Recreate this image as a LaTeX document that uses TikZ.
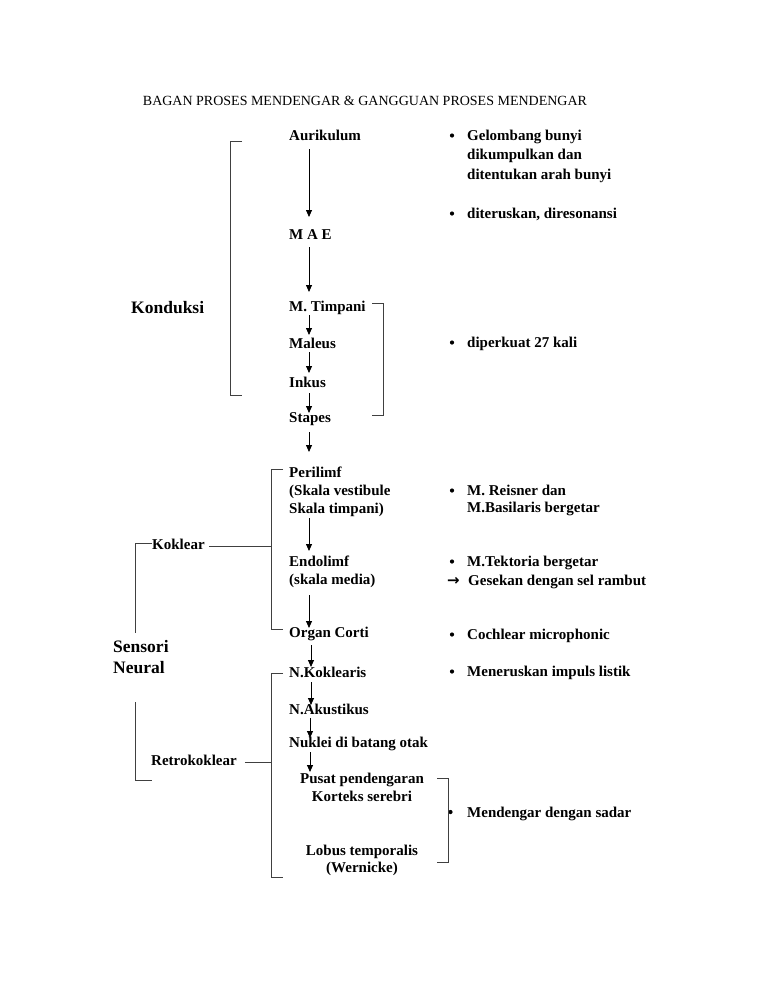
\documentclass[tikz,border=0pt]{standalone}
\usepackage{fontspec}
\setmainfont{Liberation Serif}
\newfontfamily\symfont{DejaVu Sans}
\usetikzlibrary{arrows.meta}
\begin{document}
\begin{tikzpicture}[x=1pt,y=-1pt,
  every node/.style={inner sep=0pt, font=\bfseries\fontsize{15}{18}\selectfont},
  lbl/.style={anchor=base west},
  big/.style={anchor=base west, font=\bfseries\fontsize{17.5}{21}\selectfont},
  arr/.style={-{Triangle[length=7pt,width=6pt]}, line width=0.8pt},
  brk/.style={line width=0.9pt, draw=black!75},
  dot/.style={fill=black}]
\useasboundingbox (0,0) rectangle (768,994);
\newcommand\bul[1]{\fill[dot] ([shift={(-15,-4.5)}]#1.base west) circle (2.1);}

% title
\node[anchor=base, font=\fontsize{14}{16}\selectfont] (title) at (365,105)
  {BAGAN PROSES MENDENGAR \& GANGGUAN PROSES MENDENGAR};

% main chain
\node[lbl] (aur) at (289,140) {Aurikulum};
\node[lbl] (mae) at (289,239) {M A E};
\node[lbl] (mti) at (289,311) {M. Timpani};
\node[lbl] (mal) at (289,348) {Maleus};
\node[lbl] (ink) at (289,387) {Inkus};
\node[lbl] (sta) at (289,422) {Stapes};
\node[lbl] (per1) at (289,477) {Perilimf};
\node[lbl] (per2) at (289,495) {(Skala vestibule};
\node[lbl] (per3) at (289,513) {Skala timpani)};
\node[lbl] (endo1) at (289,566) {Endolimf};
\node[lbl] (endo2) at (289,584) {(skala media)};
\node[lbl] (org) at (289,637) {Organ Corti};
\node[lbl] (nk) at (289,677) {N.Koklearis};
\node[lbl] (nak) at (289,714) {N.Akustikus};
\node[lbl] (nuk) at (289,747) {Nuklei di batang otak};
\node[anchor=base] (pus1) at (362,783) {Pusat pendengaran};
\node[anchor=base] (pus2) at (362,801) {Korteks serebri};
\node[anchor=base] (lob1) at (362,855) {Lobus temporalis};
\node[anchor=base] (lob2) at (362,872) {(Wernicke)};

% left labels
\node[big] (kond) at (131,313) {Konduksi};
\node[big] (sens) at (113,652) {Sensori};
\node[big] (neur) at (113,673) {Neural};
\node[lbl] (kok) at (152,549) {Koklear};
\node[lbl] (retro) at (151,765) {Retrokoklear};

% right notes
\node[lbl] (b1a) at (467,140) {Gelombang bunyi};
\node[lbl] (b1b) at (467,159) {dikumpulkan dan};
\node[lbl] (b1c) at (467,179) {ditentukan arah bunyi};
\node[lbl] (b2) at (467,218) {diteruskan, diresonansi};
\node[lbl] (b3) at (467,347) {diperkuat 27 kali};
\node[lbl] (b4a) at (467,495) {M. Reisner dan};
\node[lbl] (b4b) at (467,512) {M.Basilaris bergetar};
\node[lbl] (b5a) at (467,566) {M.Tektoria bergetar};
\node[lbl] (b5b) at (468,585) {Gesekan dengan sel rambut};
\node[lbl, font=\symfont\bfseries\fontsize{15}{18}\selectfont] (b5arr) at (447,585) {→};
\node[lbl] (b6) at (467,639) {Cochlear microphonic};
\node[lbl] (b7) at (467,676) {Meneruskan impuls listik};
\node[lbl] (b8) at (467,817) {Mendengar dengan sadar};
\bul{b1a} \bul{b2} \bul{b3} \bul{b4a} \bul{b5a} \bul{b6} \bul{b7}
\fill[dot] ([shift={(-16.5,-5)}]b8.base west) circle (2.1);

% arrows
\draw[arr] ([shift={(20,9)}]aur.base west) -- ([shift={(20,-22)}]mae.base west);
\draw[arr] ([shift={(20,8)}]mae.base west) -- ([shift={(20,-19)}]mti.base west);
\draw[arr] ([shift={(20,4)}]mti.base west) -- ([shift={(20,-13)}]mal.base west);
\draw[arr] ([shift={(20,4)}]mal.base west) -- ([shift={(20,-14)}]ink.base west);
\draw[arr] ([shift={(20,6)}]ink.base west) -- ([shift={(20,-9)}]sta.base west);
\coordinate (staend) at ([shift={(20,30)}]sta.base west);
\draw[arr] ([shift={(20,10)}]sta.base west) -- (staend);
\draw[arr] ([shift={(20,5)}]per3.base west) -- ([shift={(20,-15)}]endo1.base west);
\draw[arr] ([shift={(20,11)}]endo2.base west) -- ([shift={(20,-9)}]org.base west);
\draw[arr] ([shift={(22,8)}]org.base west) -- ([shift={(22,-10)}]nk.base west);
\draw[arr] ([shift={(22,5)}]nk.base west) -- ([shift={(22,-9)}]nak.base west);
\draw[arr] ([shift={(21,4)}]nak.base west) -- ([shift={(21,-9)}]nuk.base west);
\coordinate (nukend) at ([shift={(21,25)}]nuk.base west);
\draw[arr] ([shift={(21,5)}]nuk.base west) -- (nukend);

% brackets
\draw[brk] (242,141) -- (230,141) -- (230,395) -- (242,395);
\draw[brk] (372,303) -- (383,303) -- (383,415) -- (372,415);
\draw[brk] (283,469) -- (271,469) -- (271,629) -- (283,629);
\draw[brk] ([xshift=4pt]kok.east |- 0,546.5) -- (271,546.5);
\draw[brk] (kok.west |- 0,543) -- (135,543) -- (135,633);
\draw[brk] (283,673) -- (271,673) -- (271,877) -- (283,877);
\draw[brk] ([xshift=8pt]retro.east |- 0,762) -- (271,762);
\draw[brk] (135,702) -- (135,780) -- (152,780);
\draw[brk] (437,778) -- (448,778) -- (448,862) -- (437,862);
\end{tikzpicture}
\end{document}
